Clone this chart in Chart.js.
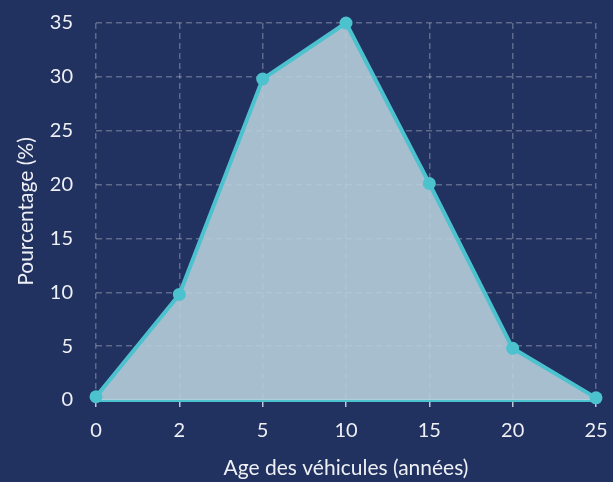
<!DOCTYPE html>
<html>
<head>
<meta charset="utf-8">
<script src="https://cdn.jsdelivr.net/npm/chart.js@4"></script>
<style>
  html, body { margin: 0; padding: 0; background: #213160; }
  #wrap { width: 613px; height: 482px; }
</style>
</head>
<body>
<div id="wrap"><canvas id="chart" width="613" height="482"></canvas></div>
<script>
const ages = ["0", "2", "5", "10", "15", "20", "25"];
const percentages = [0.3, 9.8, 29.8, 35, 20.1, 4.8, 0.2];
const yTicks = [0, 5, 10, 15, 20, 25, 30, 35];

const bg = {
    id: "bg",
    beforeDraw(chart) {
        const c = chart.ctx;
        c.save();
        c.fillStyle = "#213160";
        c.fillRect(0, 0, chart.width, chart.height);
        c.restore();
    }
};

const textColor = "#eef0f5";
const font = "Lato, 'DejaVu Sans', sans-serif";
const gridColor = "rgba(255,255,255,0.28)";

new Chart(document.getElementById("chart").getContext("2d"), {
    type: "line",
    data: {
        labels: ages,
        datasets: [{
            data: percentages,
            borderColor: "#4cc2cf",
            backgroundColor: "rgba(185, 210, 222, 0.88)",
            borderWidth: 4,
            fill: "origin",
            pointRadius: 6.5,
            pointHoverRadius: 6.5,
            pointBackgroundColor: "#4cc2cf",
            pointBorderWidth: 0,
            tension: 0,
            clip: false
        }]
    },
    options: {
        responsive: false,
        animation: false,
        layout: { padding: { top: 23, right: 17, left: 12, bottom: 0 } },
        plugins: {
            legend: { display: false },
            tooltip: { enabled: false }
        },
        scales: {
            x: {
                afterFit(scale) {
                    scale.height = 82;
                    scale.paddingLeft = 0;
                    scale.paddingRight = 0;
                },
                grid: {
                    color: gridColor,
                    lineWidth: 1.5,
                    tickColor: "rgba(230,235,245,0.8)",
                    tickLength: 7,
                    tickBorderDash: []
                },
                border: { display: true, color: "#4cc2cf", width: 3, dash: [6, 4] },
                ticks: { color: textColor, font: { family: font, size: 20 }, padding: 12, maxRotation: 0 },
                title: {
                    display: true,
                    text: "Age des véhicules (années)",
                    color: textColor,
                    font: { family: font, size: 21 },
                    padding: { top: 0, bottom: 1 }
                }
            },
            y: {
                min: 0,
                max: 35,
                afterFit(scale) {
                    scale.width = 84;
                    scale.paddingTop = 0;
                    scale.paddingBottom = 0;
                },
                afterBuildTicks(axis) { axis.ticks = yTicks.map(v => ({ value: v })); },
                grid: {
                    color: gridColor,
                    lineWidth: 1.5,
                    drawTicks: false
                },
                border: { display: false, dash: [6, 4] },
                ticks: { color: textColor, font: { family: font, size: 20 }, padding: 23 },
                title: {
                    display: true,
                    text: "Pourcentage (%)",
                    color: textColor,
                    font: { family: font, size: 21 },
                    padding: { top: 2, bottom: 0 }
                }
            }
        }
    },
    plugins: [bg]
});
</script>
</body>
</html>
